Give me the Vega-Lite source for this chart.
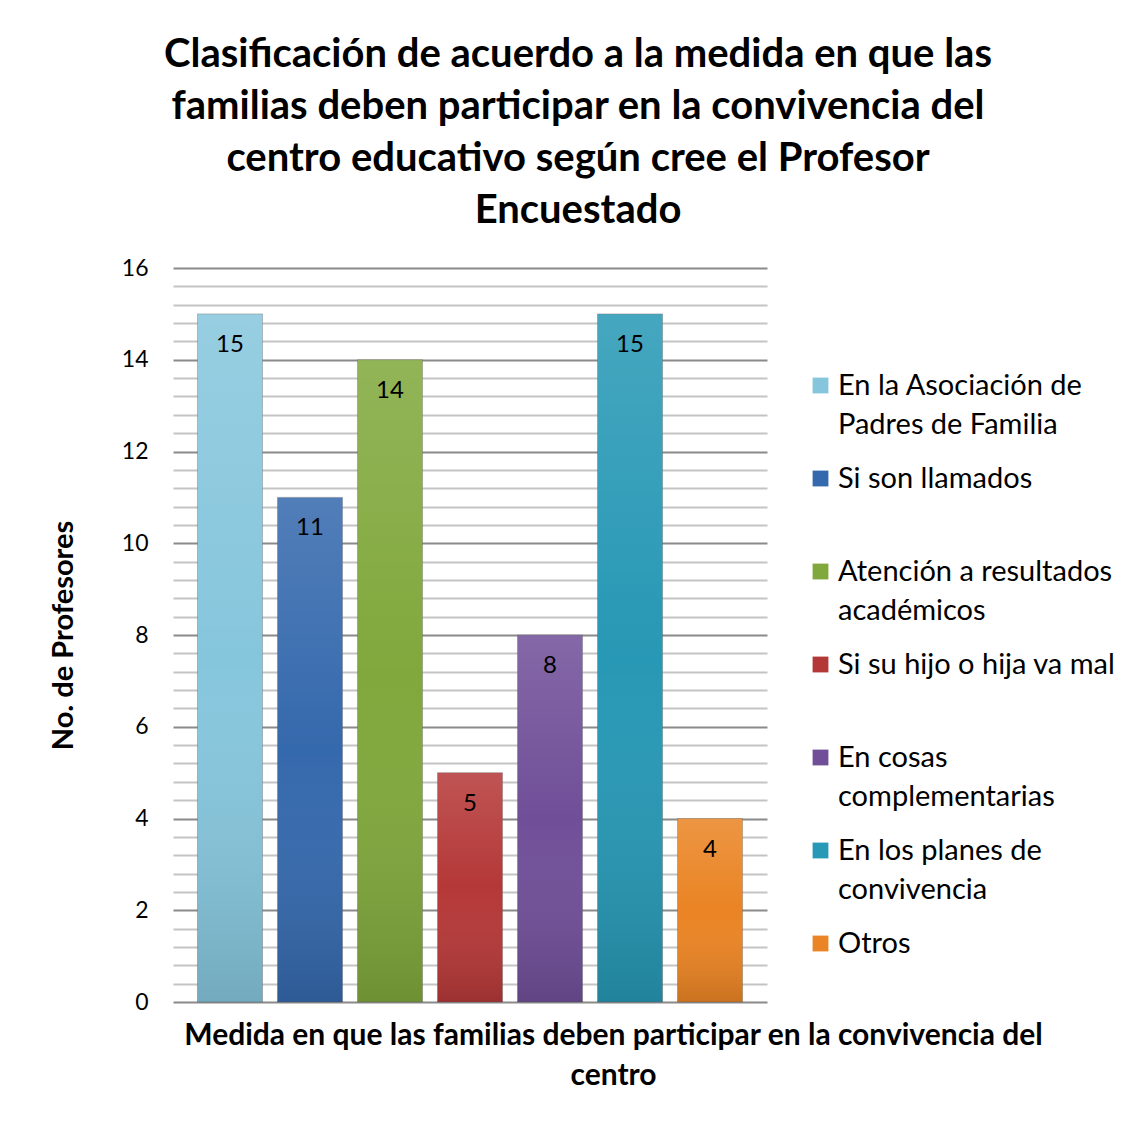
{
  "$schema": "https://vega.github.io/schema/vega-lite/v6.json",
  "autosize": {"type": "none"},
  "width": 594,
  "height": 734,
  "padding": {"left": 173, "top": 268, "right": 381, "bottom": 120},
  "background": "white",
  "config": {
    "font": "Lato",
    "view": {"stroke": null},
    "style": {"guide-label": {"lineHeight": 39}}
  },
  "title": {
    "text": ["Clasificación de acuerdo a la medida en que las", "familias deben participar en la convivencia del", "centro educativo según cree el Profesor", "Encuestado"],
    "fontSize": 40,
    "fontWeight": "bold",
    "font": "Lato",
    "color": "#000000",
    "lineHeight": 52,
    "anchor": "middle",
    "frame": "group",
    "dx": 108,
    "offset": 26
  },
  "data": {
    "values": [
      {"categoria": "En la Asociación de Padres de Familia", "profesores": 15},
      {"categoria": "Si son llamados", "profesores": 11},
      {"categoria": "Atención a resultados académicos", "profesores": 14},
      {"categoria": "Si su hijo o hija va mal", "profesores": 5},
      {"categoria": "En cosas complementarias", "profesores": 8},
      {"categoria": "En los planes de convivencia", "profesores": 15},
      {"categoria": "Otros", "profesores": 4}
    ]
  },
  "encoding": {
    "x": {
      "field": "categoria",
      "type": "nominal",
      "sort": null,
      "scale": {"paddingInner": 0.1875, "paddingOuter": 0.306},
      "axis": {
        "labels": false,
        "ticks": false,
        "domain": false,
        "title": ["Medida en que las familias deben participar en la convivencia del", "centro"],
        "titleFontSize": 30,
        "titleFontWeight": "bold",
        "titleColor": "#000000",
        "titleLineHeight": 40,
        "titleX": 440,
        "titlePadding": 18
      }
    },
    "y": {
      "field": "profesores",
      "type": "quantitative",
      "scale": {"domain": [0, 16], "nice": false},
      "axis": {
        "values": [0, 0.4, 0.8, 1.2, 1.6, 2, 2.4, 2.8, 3.2, 3.6, 4, 4.4, 4.8, 5.2, 5.6, 6, 6.4, 6.8, 7.2, 7.6, 8, 8.4, 8.8, 9.2, 9.6, 10, 10.4, 10.8, 11.2, 11.6, 12, 12.4, 12.8, 13.2, 13.6, 14, 14.4, 14.8, 15.2, 15.6, 16],
        "labelExpr": "datum.value % 2 === 0 ? format(datum.value, 'd') : ''",
        "labelOverlap": false,
        "labelFontSize": 23,
        "labelColor": "#000000",
        "labelPadding": 25,
        "ticks": false,
        "domain": false,
        "grid": true,
        "gridColor": {"condition": {"test": "datum.value % 2 === 0", "value": "#8a8a8a"}, "value": "#c4c4c4"},
        "gridWidth": 2,
        "title": "No. de Profesores",
        "titleFontSize": 29,
        "titleFontWeight": "bold",
        "titleColor": "#000000",
        "titlePadding": 43
      }
    }
  },
  "layer": [
    {
      "mark": {"type": "bar", "stroke": "#5a5a5a", "strokeOpacity": 0.35, "strokeWidth": 1},
      "encoding": {
        "color": {
          "field": "categoria",
          "type": "nominal",
          "sort": null,
          "scale": {
            "range": ["#86c6dc", "#3569ad", "#80a83c", "#b53838", "#704f98", "#2798b5", "#ea8424"]
          },
          "legend": {
            "title": null,
            "orient": "none",
            "legendX": 633,
            "legendY": 103,
            "symbolType": "square",
            "symbolSize": 250,
            "symbolStrokeWidth": 0,
            "labelFontSize": 29,
            "labelColor": "#000000",
            "labelOffset": 3,
            "labelLimit": 400,
            "rowPadding": 24,
            "labelExpr": "datum.label == 'En la Asociación de Padres de Familia' ? ['En la Asociación de', 'Padres de Familia'] : datum.label == 'Atención a resultados académicos' ? ['Atención a resultados', 'académicos'] : datum.label == 'En cosas complementarias' ? ['En cosas', 'complementarias'] : datum.label == 'En los planes de convivencia' ? ['En los planes de', 'convivencia'] : [datum.label, ' ']"
          }
        }
      }
    },
    {
      "mark": {
        "type": "bar",
        "fill": {"gradient": "linear", "x1": 0, "y1": 0, "x2": 0, "y2": 1, "stops": [{"offset": 0, "color": "rgba(255,255,255,0.14)"}, {"offset": 0.5, "color": "rgba(255,255,255,0)"}, {"offset": 1, "color": "rgba(0,0,0,0.14)"}]}
      },
      "encoding": {}
    },
    {
      "mark": {"type": "text", "baseline": "middle", "dy": 31, "fontSize": 24, "color": "#000000"},
      "encoding": {
        "text": {"field": "profesores", "type": "quantitative"}
      }
    }
  ]
}
